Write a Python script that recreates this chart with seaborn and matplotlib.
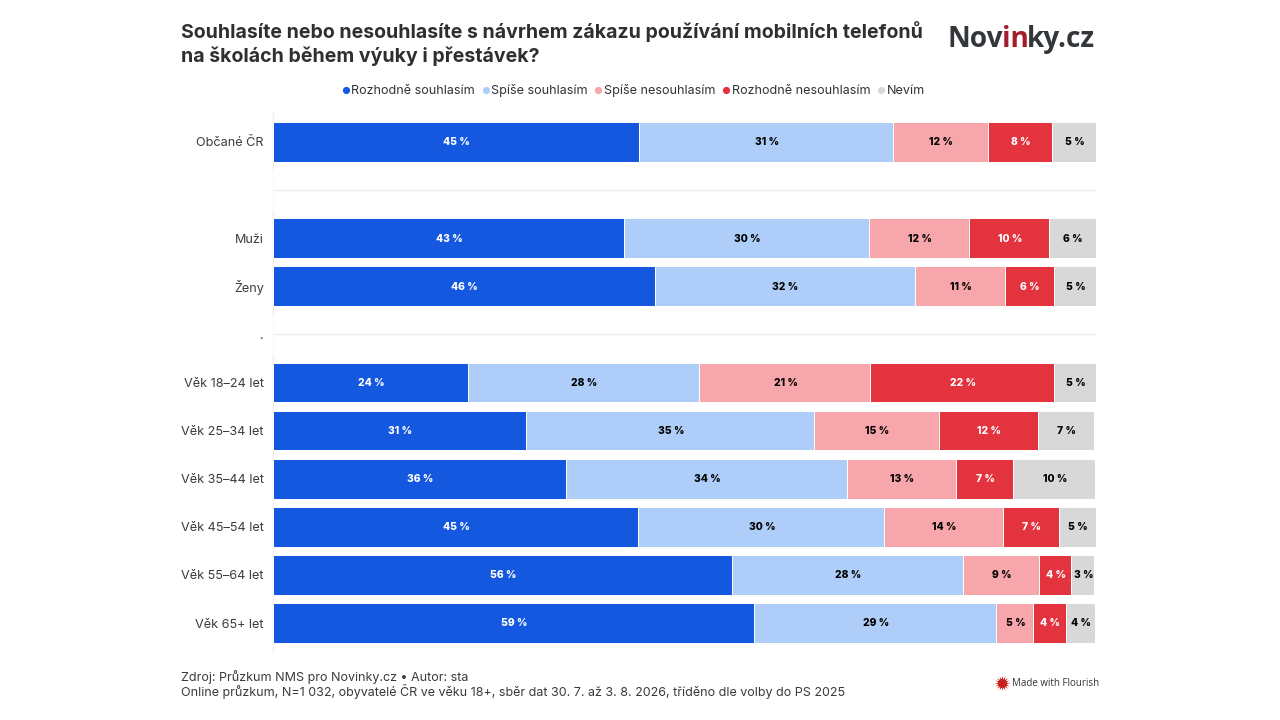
import matplotlib
matplotlib.use("Agg")
import matplotlib.pyplot as plt
import pandas as pd
import seaborn as sns
from matplotlib.lines import Line2D

sns.set_theme(style="white")
plt.rcParams["font.family"] = ["Inter", "DejaVu Sans"]

categories = ["Občané ČR", " ", "Muži", "Ženy", ".", "Věk 18–24 let", "Věk 25–34 let",
              "Věk 35–44 let", "Věk 45–54 let", "Věk 55–64 let", "Věk 65+ let"]
series_names = ["Rozhodně souhlasím", "Spíše souhlasím", "Spíše nesouhlasím",
                "Rozhodně nesouhlasím", "Nevím"]
strongly_agree = [44.5, 0, 42.6, 46.4, 0, 23.7, 30.8, 35.6, 44.4, 55.8, 58.5]
rather_agree = [30.8, 0, 29.8, 31.6, 0, 28.1, 34.9, 34.1, 29.9, 28.1, 29.4]
rather_disagree = [11.6, 0, 12.2, 10.9, 0, 20.8, 15.2, 13.3, 14.4, 9.2, 4.5]
strongly_disagree = [7.7, 0, 9.7, 6.0, 0, 22.3, 12.0, 6.9, 6.8, 3.9, 3.9]
dont_know = [5.4, 0, 5.7, 5.1, 0, 5.1, 6.9, 10.0, 4.5, 2.8, 3.6]
labels_strongly_agree = ["45 %", "", "43 %", "46 %", "", "24 %", "31 %", "36 %", "45 %", "56 %", "59 %"]
labels_rather_agree = ["31 %", "", "30 %", "32 %", "", "28 %", "35 %", "34 %", "30 %", "28 %", "29 %"]
labels_rather_disagree = ["12 %", "", "12 %", "11 %", "", "21 %", "15 %", "13 %", "14 %", "9 %", "5 %"]
labels_strongly_disagree = ["8 %", "", "10 %", "6 %", "", "22 %", "12 %", "7 %", "7 %", "4 %", "4 %"]
labels_dont_know = ["5 %", "", "6 %", "5 %", "", "5 %", "7 %", "10 %", "5 %", "3 %", "4 %"]
colors = ["#1558e0", "#aecdf8", "#f7a6ab", "#e2333f", "#d8d8d8"]
label_colors = ["white", "black", "black", "white", "black"]

all_values = [strongly_agree, rather_agree, rather_disagree, strongly_disagree, dont_know]
all_labels = [labels_strongly_agree, labels_rather_agree, labels_rather_disagree,
              labels_strongly_disagree, labels_dont_know]

W, H = 1280, 720
fig = plt.figure(figsize=(W / 100, H / 100), dpi=100, facecolor="white")
top, bottom = 113, 652
ax = fig.add_axes([273.0 / W, 1 - bottom / H, 823.0 / W, (bottom - top) / H])

left = [0.0] * len(categories)
for name, vals, labs, col, lc in zip(series_names, all_values, all_labels, colors, label_colors):
    df = pd.DataFrame({"cat": categories, "val": vals})
    sns.barplot(data=df, y="cat", x="val", order=categories, left=left, color=col, saturation=1,
                width=0.825, edgecolor="white", linewidth=0.7, ax=ax, zorder=3)
    bars = ax.containers[-1]
    anns = ax.bar_label(bars, labels=labs, label_type="center", color=lc, fontsize=7.4,
                        fontweight=800, zorder=5)
    for a in anns:
        a.xyann = (0.5, -0.3)
    left = [a + b for a, b in zip(left, vals)]

ax.set_xlim(0, 100)
y_per_px = 1 / 48.1
ax.set_ylim(10 + (bottom - 623) * y_per_px, 0 - (142 - top) * y_per_px)
ax.set_xlabel("")
ax.set_ylabel("")
ax.set_xticks([])
ax.tick_params(axis="y", length=5, width=1, color="#eeeeee", pad=1.6, labelsize=9.1, labelcolor="#3c3c3c")
for s in ["top", "right", "bottom"]:
    ax.spines[s].set_visible(False)
ax.spines["left"].set_color("#eeeeee")
ax.spines["left"].set_linewidth(1)
for yy in [1, 4]:
    ax.axhline(yy, color="#eeeeee", lw=1, zorder=1)

fig.text(181 / W, 1 - 31.5 / H, "Souhlasíte nebo nesouhlasíte s návrhem zákazu používání mobilních telefonů",
         fontsize=14.06, fontweight="bold", color="#2f2f2f", va="center")
fig.text(181 / W, 1 - 56 / H, "na školách během výuky i přestávek?",
         fontsize=14.06, fontweight="bold", color="#2f2f2f", va="center")

# legend
legend_x = [345.5, 485.5, 598, 725.5, 881]
text_x = [351, 491, 604, 732, 886.5]
for name, col, lx, tx in zip(series_names, colors, legend_x, text_x):
    fig.add_artist(Line2D([lx / W], [1 - 89.5 / H], marker="o", ms=5.2, color=col, mew=0,
                          transform=fig.transFigure))
    fig.text(tx / W, 1 - 90.5 / H, name, fontsize=9.08, color="#333333", va="center")

# logo
logo = dict(fontsize=20.2, fontweight="bold", fontfamily="Open Sans", va="baseline")
fig.text(947 / W, 1 - 47 / H, "Nov", color="#33373b", **logo)
fig.text(1002 / W, 1 - 47 / H, "in", color="#a51c2b", **logo)
fig.text(1027 / W, 1 - 47 / H, "ky.cz", color="#33373b", **logo)

fig.text(181 / W, 1 - 676.5 / H, "Zdroj: Průzkum NMS pro Novinky.cz • Autor: sta",
         fontsize=9.0, color="#3a3a3a", va="center")
fig.text(181 / W, 1 - 691.5 / H,
         "Online průzkum, N=1 032, obyvatelé ČR ve věku 18+, sběr dat 30. 7. až 3. 8. 2026, tříděno dle volby do PS 2025",
         fontsize=9.0, color="#3a3a3a", va="center")

fig.add_artist(Line2D([1002 / W], [1 - 683 / H], marker=(16, 1, 0), ms=11, color="#c8201c", mew=0,
                      transform=fig.transFigure))
fig.add_artist(Line2D([1002 / W], [1 - 683 / H], marker="o", ms=6.5, color="#c8201c", mew=0,
                      transform=fig.transFigure))
fig.text(1012 / W, 1 - 683 / H, "Made with Flourish", fontsize=7.0, color="#333333", va="center",
         fontfamily="Open Sans")

fig.savefig("out.png", dpi=100)
